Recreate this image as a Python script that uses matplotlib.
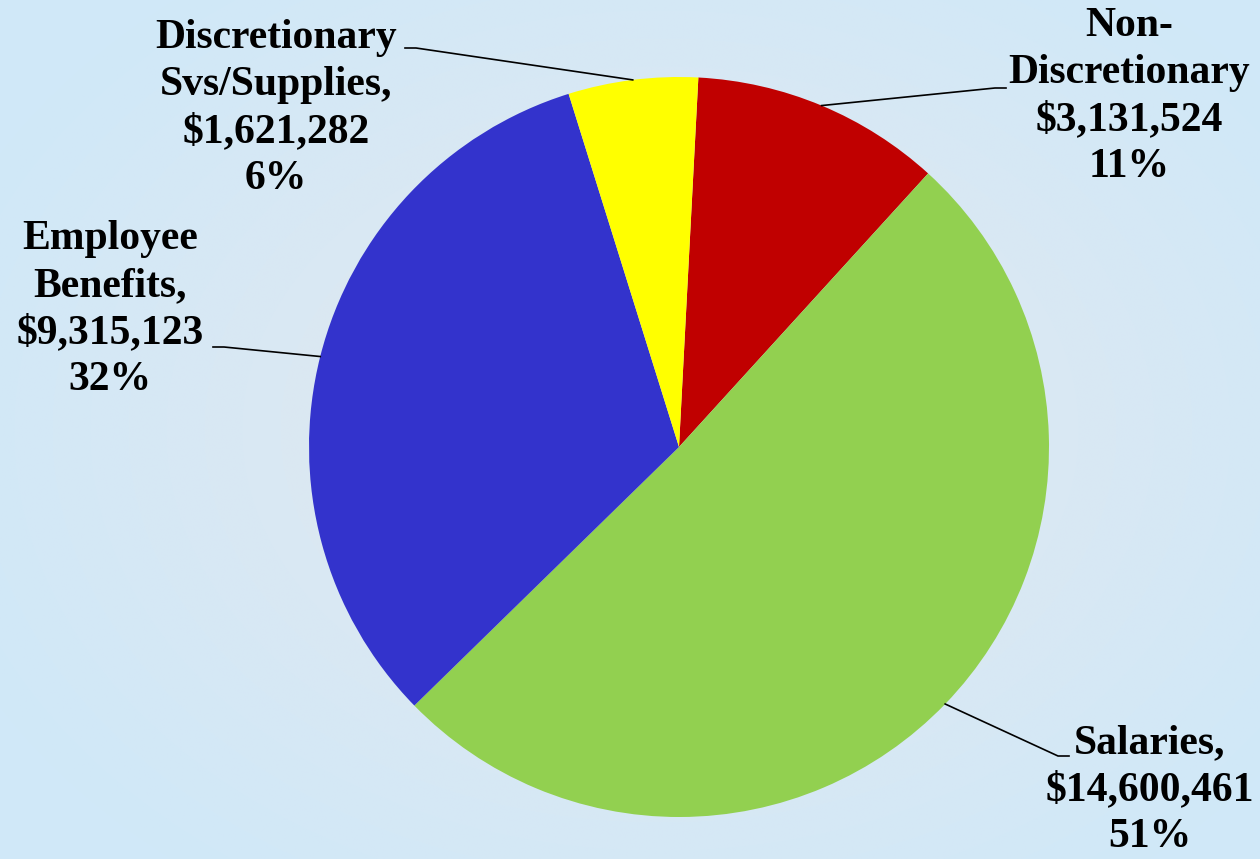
import numpy as np
import matplotlib
matplotlib.use("Agg")
import matplotlib.pyplot as plt

# slices, clockwise from the top
names = ["Non-\nDiscretionary", "Salaries,", "Employee\nBenefits,", "Discretionary\nSvs/Supplies,"]
amounts = [3131524, 14600461, 9315123, 1621282]
colors = ["#C00000", "#92D050", "#3333CC", "#FFFF00"]

W, H = 1260, 859
fig = plt.figure(figsize=(W / 100, H / 100), dpi=100)
ax = fig.add_axes([0, 0, 1, 1])

# radial background gradient
yy, xx = np.mgrid[0:H, 0:W]
d = np.sqrt(((xx - 660) / 760.0) ** 2 + ((yy - 430) / 560.0) ** 2)
d = np.clip(d, 0, 1)[..., None]
inner = np.array([0xE4, 0xE8, 0xEE]) / 255.0
outer = np.array([0xD0, 0xE8, 0xF8]) / 255.0
bg = inner * (1 - d) + outer * d
ax.imshow(bg, extent=[0, W, 0, H], origin="upper", zorder=0, aspect="auto")

cx, cy, r = 679, H - 447, 370
wedges, _ = ax.pie(amounts, colors=colors, startangle=87.0, counterclock=False,
                   center=(cx, cy), radius=r, frame=True,
                   wedgeprops=dict(linewidth=0, zorder=2))
ax.set_xlim(0, W)
ax.set_ylim(0, H)
ax.axis("off")

total = sum(amounts)
# text center x, text top y (px from top), leader stub outer end, stub direction
label_pos = [(1129, 7, (1006, 88), -1),
             (1150, 724, (1058, 756), 1),
             (110, 220, (213, 347), -1),
             (276, 19, (405, 48), -1)]
for w, name, amt, (tx, ty, stub, sgn) in zip(wedges, names, amounts, label_pos):
    pct = round(amt / total * 100)
    txt = f"{name}\n${amt:,}\n{pct}%"
    ax.text(tx, H - ty, txt, ha="center", va="top", fontsize=30, fontweight="bold",
            family="Liberation Serif", linespacing=1.31, zorder=4)
    mid = np.deg2rad((w.theta1 + w.theta2) / 2)
    ex, ey = cx + r * np.cos(mid), cy + r * np.sin(mid)
    sx, sy = stub[0], H - stub[1]
    # stub runs from the label side toward the pie, then slants to the wedge
    if sx < cx:
        kx = sx + 11
    else:
        kx = sx - 11 if sgn < 0 else sx + 11
    if sx > cx and sgn > 0:
        ax.plot([ex, sx, sx + 11], [ey, sy, sy], color="black", lw=1.2, zorder=3)
    else:
        ax.plot([sx, kx, ex], [sy, sy, ey], color="black", lw=1.2, zorder=3)

fig.savefig("out.png", dpi=100)
